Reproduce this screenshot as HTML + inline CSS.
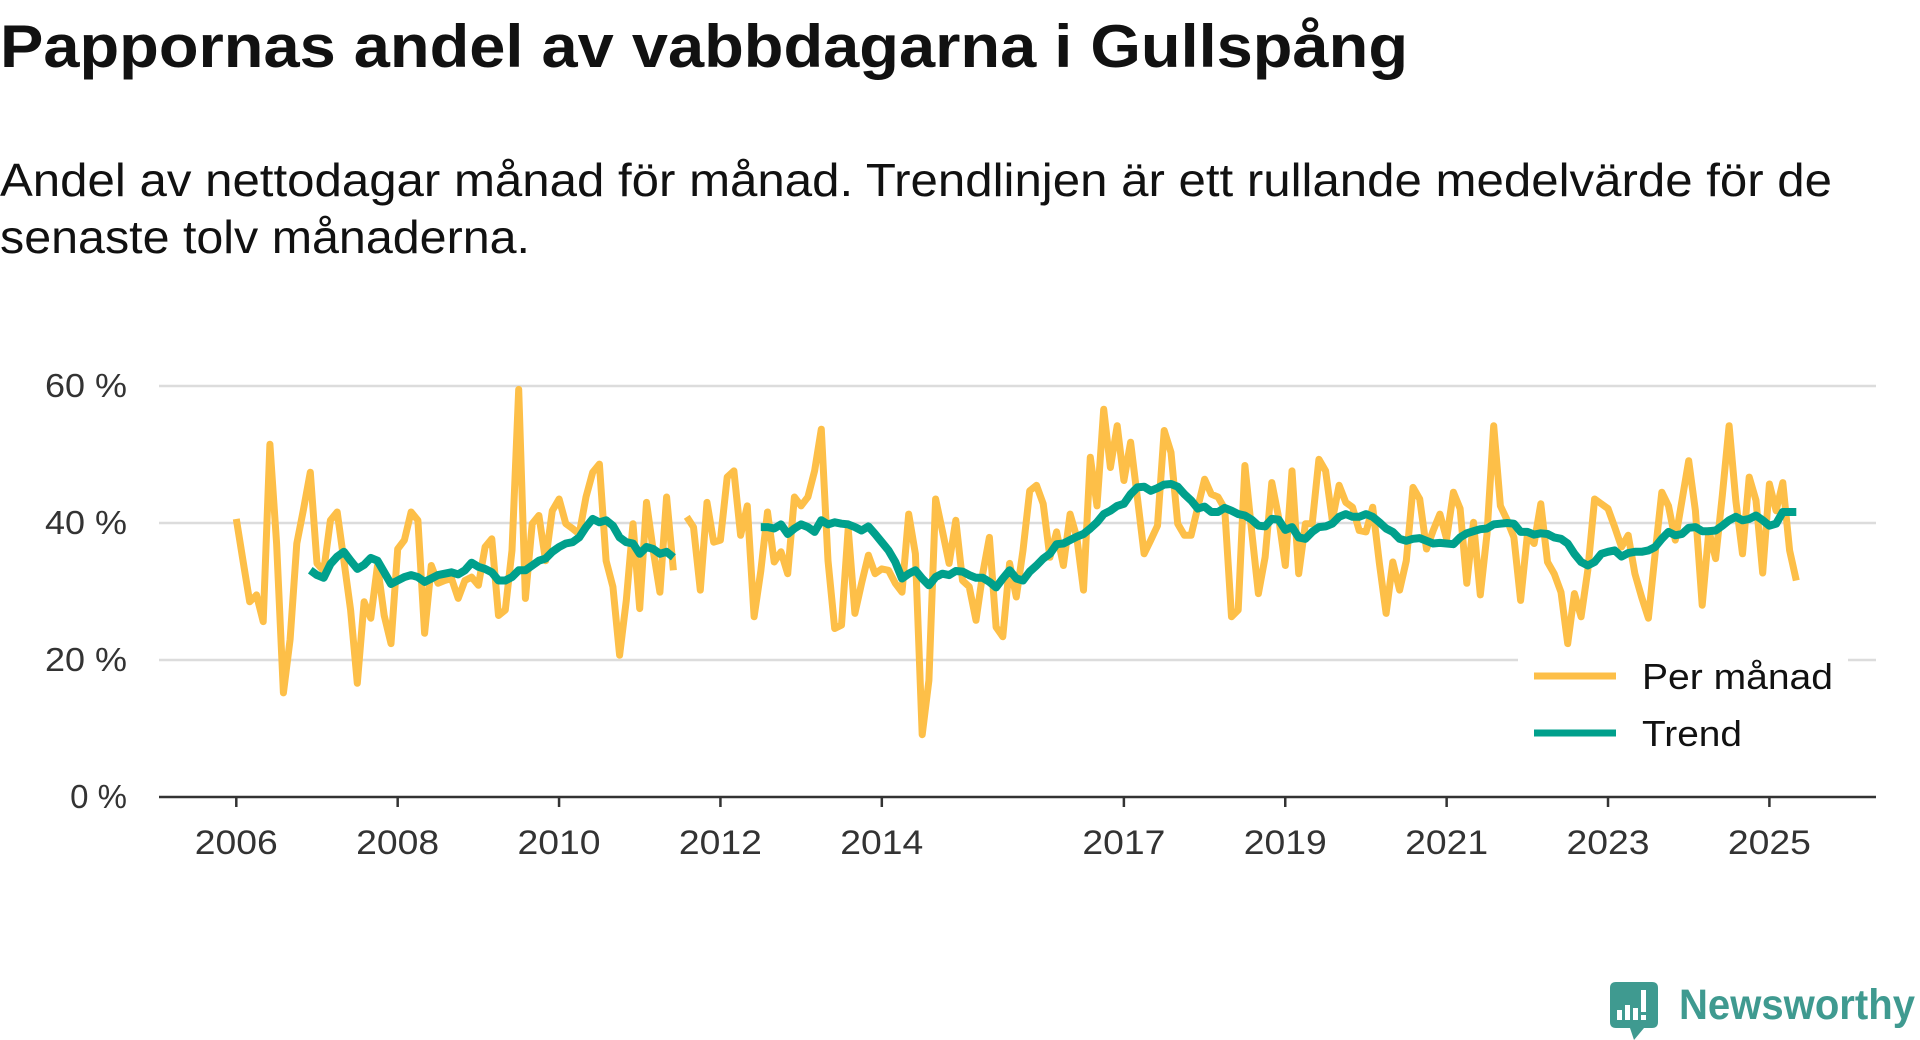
<!DOCTYPE html>
<html><head><meta charset="utf-8"><style>
html,body{margin:0;padding:0;background:#fff;width:1920px;height:1040px;overflow:hidden}
svg{display:block}
</style></head><body>
<svg id="chart" width="1920" height="1040" viewBox="0 0 1920 1040" xmlns="http://www.w3.org/2000/svg" font-family="'Liberation Sans', sans-serif">
<text x="0" y="67" font-size="60" font-weight="bold" fill="#111" textLength="1408" lengthAdjust="spacingAndGlyphs">Pappornas andel av vabbdagarna i Gullspång</text>
<text x="0" y="196" font-size="46" fill="#111" textLength="1832" lengthAdjust="spacingAndGlyphs">Andel av nettodagar månad för månad. Trendlinjen är ett rullande medelvärde för de</text>
<text x="0" y="253" font-size="46" fill="#111" textLength="530" lengthAdjust="spacingAndGlyphs">senaste tolv månaderna.</text>
<g id="grid"></g>
<g id="xaxis"></g>
<g id="yaxis"></g>
<g id="series"></g>
<g>
<rect x="1518" y="648" width="330" height="110" fill="#fff"/>
<g>
<line x1="1534" y1="676" x2="1616" y2="676" stroke="#FDBF48" stroke-width="7"/>
<text x="1642" y="689" font-size="36" fill="#111" textLength="191" lengthAdjust="spacingAndGlyphs">Per månad</text></g>
<g>
<line x1="1534" y1="733" x2="1616" y2="733" stroke="#00A08C" stroke-width="7"/>
<text x="1642" y="746" font-size="36" fill="#111" textLength="100" lengthAdjust="spacingAndGlyphs">Trend</text></g>
</g>
<g>
<path d="M1616 982 H1652 Q1658 982 1658 988 V1022 Q1658 1028 1652 1028 H1644 L1634 1040 L1630 1028 H1616 Q1610 1028 1610 1022 V988 Q1610 982 1616 982 Z" fill="#3f9a90"/>
<rect x="1617" y="1010" width="5" height="10" fill="#fff"/>
<rect x="1625" y="1005" width="5" height="15" fill="#fff"/>
<rect x="1633" y="1008" width="5" height="12" fill="#fff"/>
<rect x="1641" y="990" width="5" height="22" fill="#fff"/>
<rect x="1641" y="1015" width="5" height="5" fill="#fff"/>
<text x="1679" y="1019" font-size="43" font-weight="bold" fill="#3f9a90" textLength="236" lengthAdjust="spacingAndGlyphs">Newsworthy</text>
</g>
</svg>
<script>
const startYear = 2006;
const monthly = [40.6,34.5,28.5,29.5,25.6,51.5,37,15.2,23,37,42,47.4,
34.1,33,40.4,41.6,34.5,27.3,16.6,28.5,26.1,33.8,26.5,22.4,36.2,37.5,41.6,40.4,23.9,33.8,31.2,31.6,31.9,29,31.6,32.1,30.9,36.5,37.7,26.5,
27.3,36,59.5,29,39.9,41.1,34.5,41.8,43.5,39.9,39.2,38.4,43.8,47.4,48.6,34.5,30.7,20.7,28.7,39.9,27.5,43,36,29.9,43.8,33.1,null,40.9,39.4,30.2,43,37.2,37.5,46.7,47.6,38.2,42.5,26.3,
33,41.6,34.3,35.8,32.6,43.8,42.5,43.8,47.6,53.7,34.5,24.6,25.1,39.2,26.8,31.2,35.3,32.6,33.3,33.1,31.2,29.9,41.3,35.5,9.1,17,43.5,38.9,34.1,40.4,31.6,30.7,25.8,32.6,37.9,24.8,23.4,34.1,29.2,
36,44.7,45.5,42.8,35,38.7,33.8,41.3,37.9,30.2,49.6,42.5,56.6,48.1,54.2,46.2,51.8,43.8,35.5,37.5,39.6,53.5,50.3,39.9,38.2,38.2,42.3,46.4,44.2,43.8,42.1,26.3,27.3,48.4,38.9,29.7,35,45.9,40.9,
33.8,47.6,32.6,39.9,39.9,49.3,47.6,40.4,45.5,43,42.3,38.9,38.7,42.3,34.1,26.8,34.3,30.2,34.5,45.2,43.5,36.2,38.9,41.3,37.7,44.5,42.1,31.2,40.1,29.5,38.4,54.2,42.5,40.4,37.9,28.7,38.2,37,42.8,
34.3,32.6,29.9,22.4,29.7,26.3,33.1,43.5,42.8,42.1,39.4,36.5,38.2,32.6,29.2,26.1,35.5,44.5,42.5,37.5,43.3,49.1,41.8,28,38.9,34.8,44,54.2,43.3,35.5,46.7,43.3,32.7,45.7,41.8,45.9,36,31.6];
const trendStart1 = 11;
const trend1 = [33.1,32.4,32,34,35.1,35.8,34.5,33.3,33.9,34.9,34.5,32.8,31.1,31.6,32.1,32.4,32.1,31.4,31.9,32.4,32.6,32.8,32.5,33.1,34.2,33.6,33.3,32.8,31.6,
31.6,32.1,33.1,33.1,33.8,34.5,34.8,35.8,36.5,37,37.2,37.9,39.4,40.6,40.1,40.4,39.6,37.9,37.2,37,35.5,36.5,36.2,35.5,35.8,35];
const trendStart2 = 78;
const trend2 = [39.4,39.4,39.2,39.8,38.4,39.2,39.8,39.4,38.7,40.4,39.8,40.1,39.9,39.8,39.4,38.9,39.5,38.4,37.2,36,34.3,31.9,32.6,33.1,31.9,30.9,32.1,32.6,32.4,33,32.9,32.4,32,32,31.4,30.6,31.9,33.1,31.9,31.6,
32.9,33.8,34.8,35.5,36.9,37,37.5,38,38.4,39.2,40.1,41.3,41.8,42.5,42.8,44.2,45.2,45.3,44.7,45.1,45.6,45.7,45.3,44.2,43.3,42.1,42.4,41.6,41.6,42.2,41.8,41.3,41.1,40.5,39.6,39.5,40.6,40.5,39,
39.4,37.9,37.7,38.7,39.4,39.5,39.9,40.9,41.3,40.9,40.9,41.3,40.9,40.1,39.2,38.7,37.7,37.4,37.7,37.8,37.4,37,37.1,37,36.9,37.9,38.5,38.8,39.1,39.2,39.8,39.9,40,39.9,38.7,38.7,38.3,38.5,
38.4,37.9,37.7,37,35.5,34.3,33.8,34.3,35.5,35.8,36,35.1,35.6,35.8,35.8,36,36.5,37.7,38.7,38.2,38.4,39.3,39.4,38.8,38.8,38.9,39.6,40.4,40.9,40.4,40.6,41.1,40.4,39.6,39.9,41.6,41.6,41.6];
const yTicks = [0,20,40,60];
const yTickLabels = ["0 %","20 %","40 %","60 %"];
const xTickYears = [2006,2008,2010,2012,2014,2017,2019,2021,2023,2025];

const NS = "http://www.w3.org/2000/svg";
function xScale(monthIndex){ return 236.3 + monthIndex*(1533.1/228); }
function xYear(y){ return xScale((y-startYear)*12); }
function yScale(v){ return 797 - v*(411/60); }
function mk(tag, attrs, parent){ const e=document.createElementNS(NS,tag); for(const k in attrs) e.setAttribute(k,attrs[k]); parent.appendChild(e); return e; }

const grid=document.getElementById('grid'), xa=document.getElementById('xaxis'), ya=document.getElementById('yaxis'), ser=document.getElementById('series');
yTicks.forEach((t,i)=>{
  if(t>0){
    const gl=mk('line',{x1:159,x2:1876,y1:yScale(t),y2:yScale(t),stroke:'#dcdcdc','stroke-width':2.5},grid);
    
    
  }
  const attrs={x:127,y:yScale(t)+11,'text-anchor':'end','font-size':33,fill:'#333'};
  if(t>0){attrs.textLength=82;attrs.lengthAdjust='spacingAndGlyphs';}
  const tl=mk('text',attrs,ya);
  tl.textContent=yTickLabels[i];
  
  
});
const axisLine=mk('line',{x1:159,x2:1876,y1:yScale(0),y2:yScale(0),stroke:'#333','stroke-width':2.5},xa);


xTickYears.forEach(yr=>{
  const x=xYear(yr);
  const tk=mk('line',{x1:x,x2:x,y1:yScale(0),y2:yScale(0)+10,stroke:'#333','stroke-width':2.5},xa);
  
  
  const lb=mk('text',{x:x,y:854,'text-anchor':'middle','font-size':34,fill:'#333',textLength:83,lengthAdjust:'spacingAndGlyphs'},xa);
  lb.textContent=String(yr);
  
  
});
function pathFrom(vals, start){
  let d='', pen=false;
  vals.forEach((v,i)=>{
    if(v===null){pen=false;return;}
    d+=(pen?'L':'M')+xScale(start+i).toFixed(1)+' '+yScale(v).toFixed(1)+' ';
    pen=true;
  });
  return d;
}
const pm=mk('path',{d:pathFrom(monthly,0),fill:'none',stroke:'#FDBF48','stroke-width':7,'stroke-linejoin':'round'},ser);


const t1=mk('path',{d:pathFrom(trend1,trendStart1),fill:'none',stroke:'#00A08C','stroke-width':8,'stroke-linejoin':'round'},ser);


const t2=mk('path',{d:pathFrom(trend2,trendStart2),fill:'none',stroke:'#00A08C','stroke-width':8,'stroke-linejoin':'round'},ser);


</script>
</body></html>
